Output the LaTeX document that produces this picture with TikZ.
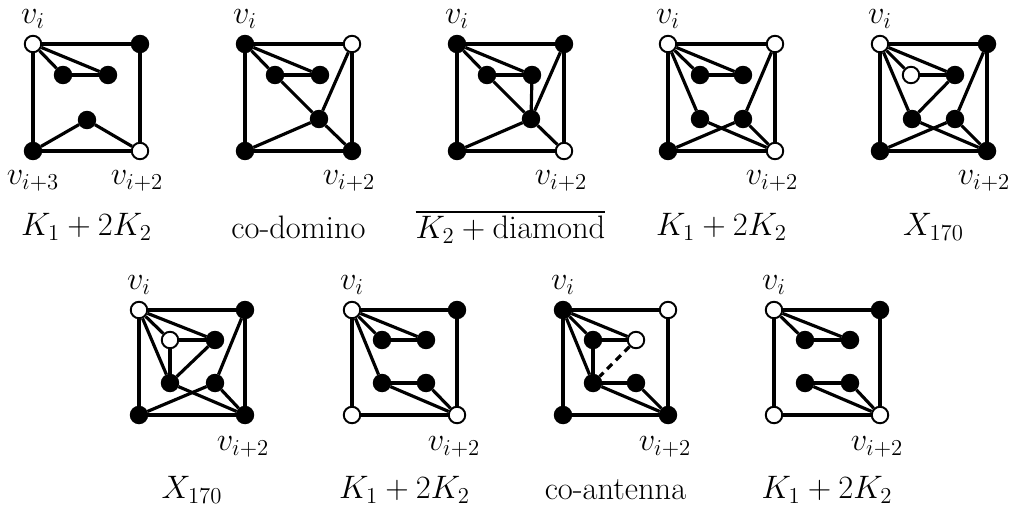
\RequirePackage{fix-cm}
\documentclass[tikz,border=0pt]{standalone}
\usepackage{amsmath}
\usepackage{tikz}
\usetikzlibrary{positioning}

\begin{document}
\begin{tikzpicture}[
  x=0.02cm, y=-0.02cm,
  font=\fontsize{18.5}{22}\selectfont,
  vtx/.style={circle, fill=black, draw=black, line width=1.1pt, minimum size=0.33cm, inner sep=0pt},
  wvtx/.style={vtx, fill=white},
  edge/.style={line width=1.8pt},
  nonedge/.style={edge, dash pattern=on 4pt off 3pt},
  lbl/.style={inner sep=1pt}
]
\useasboundingbox (0,0) rectangle (1013,512);

% graph 1: K_1 + 2K_2
\begin{scope}[shift={(33,44)}, name prefix=g1-]
  \node[wvtx] (tl) at (0,0) {};
  \node[vtx] (tr) at (107,0) {};
  \node[vtx] (bl) at (0,107) {};
  \node[wvtx] (br) at (107,107) {};
  \node[vtx] (a) at (30,31) {};
  \node[vtx] (b) at (75,31) {};
  \node[vtx] (e) at (54,76) {};
  \foreach \u/\v in {tl/tr,tr/br,br/bl,bl/tl,tl/a,tl/b,a/b,e/bl,e/br}
    \draw[edge] (\u) -- (\v);
  \node[lbl] (vi) at (0,-25) {$v_i$};
  \node[lbl] (vi3) at (0,137) {$v_{i+3}$};
  \node[lbl] (vi2) at (104,137) {$v_{i+2}$};
  \node (title) at (53.5,183) {$K_1 + 2K_2$};
\end{scope}

% graph 2: co-domino
\begin{scope}[shift={(245,44)}, name prefix=g2-]
  \node[vtx] (tl) at (0,0) {};
  \node[wvtx] (tr) at (107,0) {};
  \node[vtx] (bl) at (0,107) {};
  \node[vtx] (br) at (107,107) {};
  \node[vtx] (a) at (30,31) {};
  \node[vtx] (b) at (75,31) {};
  \node[vtx] (c) at (74,75) {};
  \foreach \u/\v in {tl/tr,tr/br,br/bl,bl/tl,tl/a,tl/b,a/b,a/c,c/tr,c/bl,c/br}
    \draw[edge] (\u) -- (\v);
  \node[lbl] (vi) at (0,-25) {$v_i$};
  \node[lbl] (vi2) at (104,137) {$v_{i+2}$};
  \node (title) at (53.5,183) {co-domino};
\end{scope}

% graph 3: complement of K_2 + diamond
\begin{scope}[shift={(457,44)}, name prefix=g3-]
  \node[vtx] (tl) at (0,0) {};
  \node[vtx] (tr) at (107,0) {};
  \node[vtx] (bl) at (0,107) {};
  \node[wvtx] (br) at (107,107) {};
  \node[vtx] (a) at (30,31) {};
  \node[vtx] (b) at (75,31) {};
  \node[vtx] (c) at (74,75) {};
  \foreach \u/\v in {tl/tr,tr/br,br/bl,bl/tl,tl/a,tl/b,a/b,a/c,b/c,c/tr,c/bl,c/br}
    \draw[edge] (\u) -- (\v);
  \node[lbl] (vi) at (0,-25) {$v_i$};
  \node[lbl] (vi2) at (104,137) {$v_{i+2}$};
  \node (title) at (53.5,183) {$\overline{K_2 + \mathrm{diamond}}$};
\end{scope}

% graph 4: K_1 + 2K_2
\begin{scope}[shift={(668,44)}, name prefix=g4-]
  \node[wvtx] (tl) at (0,0) {};
  \node[wvtx] (tr) at (107,0) {};
  \node[vtx] (bl) at (0,107) {};
  \node[wvtx] (br) at (107,107) {};
  \node[vtx] (a) at (32,31) {};
  \node[vtx] (b) at (75,31) {};
  \node[vtx] (c) at (32,75) {};
  \node[vtx] (d) at (75,75) {};
  \foreach \u/\v in {tl/tr,tr/br,br/bl,bl/tl,tl/a,tl/b,a/b,tl/c,d/tr,c/br,d/bl,d/br}
    \draw[edge] (\u) -- (\v);
  \node[lbl] (vi) at (0,-25) {$v_i$};
  \node[lbl] (vi2) at (104,137) {$v_{i+2}$};
  \node (title) at (53.5,183) {$K_1 + 2K_2$};
\end{scope}

% graph 5: X_170
\begin{scope}[shift={(880,44)}, name prefix=g5-]
  \node[wvtx] (tl) at (0,0) {};
  \node[vtx] (tr) at (107,0) {};
  \node[vtx] (bl) at (0,107) {};
  \node[vtx] (br) at (107,107) {};
  \node[wvtx] (a) at (31,31) {};
  \node[vtx] (b) at (75,31) {};
  \node[vtx] (c) at (32,75) {};
  \node[vtx] (d) at (75,75) {};
  \foreach \u/\v in {tl/tr,tr/br,br/bl,bl/tl,tl/a,tl/b,a/b,tl/c,b/c,d/tr,c/br,d/bl,d/br}
    \draw[edge] (\u) -- (\v);
  \node[lbl] (vi) at (0,-25) {$v_i$};
  \node[lbl] (vi2) at (104,137) {$v_{i+2}$};
  \node (title) at (53.5,183) {$X_{170}$};
\end{scope}

% graph 6: X_170
\begin{scope}[shift={(139,310)}, name prefix=g6-]
  \node[wvtx] (tl) at (0,0) {};
  \node[vtx] (tr) at (106,0) {};
  \node[vtx] (bl) at (0,105) {};
  \node[vtx] (br) at (106,105) {};
  \node[wvtx] (a) at (31,30) {};
  \node[vtx] (b) at (76,30) {};
  \node[vtx] (c) at (31,73) {};
  \node[vtx] (d) at (76,73) {};
  \foreach \u/\v in {tl/tr,tr/br,br/bl,bl/tl,tl/a,tl/b,a/b,a/c,tl/c,b/c,d/tr,c/br,d/bl,d/br}
    \draw[edge] (\u) -- (\v);
  \node[lbl] (vi) at (0,-25) {$v_i$};
  \node[lbl] (vi2) at (104,137) {$v_{i+2}$};
  \node (title) at (53,180) {$X_{170}$};
\end{scope}

% graph 7: K_1 + 2K_2
\begin{scope}[shift={(352,310)}, name prefix=g7-]
  \node[wvtx] (tl) at (0,0) {};
  \node[vtx] (tr) at (105,0) {};
  \node[wvtx] (bl) at (0,105) {};
  \node[wvtx] (br) at (105,105) {};
  \node[vtx] (a) at (30,30) {};
  \node[vtx] (b) at (74,30) {};
  \node[vtx] (c) at (30,73) {};
  \node[vtx] (d) at (74,73) {};
  \foreach \u/\v in {tl/tr,tr/br,br/bl,bl/tl,tl/a,tl/b,a/b,tl/c,c/d,c/br,d/br}
    \draw[edge] (\u) -- (\v);
  \node[lbl] (vi) at (0,-25) {$v_i$};
  \node[lbl] (vi2) at (102,137) {$v_{i+2}$};
  \node (title) at (52.5,180) {$K_1 + 2K_2$};
\end{scope}

% graph 8: co-antenna
\begin{scope}[shift={(563,310)}, name prefix=g8-]
  \node[vtx] (tl) at (0,0) {};
  \node[wvtx] (tr) at (105,0) {};
  \node[vtx] (bl) at (0,105) {};
  \node[vtx] (br) at (105,105) {};
  \node[vtx] (a) at (30,30) {};
  \node[wvtx] (b) at (73,30) {};
  \node[vtx] (c) at (30,73) {};
  \node[vtx] (d) at (73,73) {};
  \foreach \u/\v in {tl/tr,tr/br,br/bl,bl/tl,tl/a,tl/b,a/b,tl/c,a/c,c/d,c/br,d/br}
    \draw[edge] (\u) -- (\v);
  \draw[nonedge] (b) -- (c);
  \node[lbl] (vi) at (0,-25) {$v_i$};
  \node[lbl] (vi2) at (102,137) {$v_{i+2}$};
  \node (title) at (52.5,180) {co-antenna};
\end{scope}

% graph 9: K_1 + 2K_2
\begin{scope}[shift={(774,310)}, name prefix=g9-]
  \node[wvtx] (tl) at (0,0) {};
  \node[vtx] (tr) at (106,0) {};
  \node[wvtx] (bl) at (0,105) {};
  \node[wvtx] (br) at (106,105) {};
  \node[vtx] (a) at (31,30) {};
  \node[vtx] (b) at (76,30) {};
  \node[vtx] (c) at (31,73) {};
  \node[vtx] (d) at (76,73) {};
  \foreach \u/\v in {tl/tr,tr/br,br/bl,bl/tl,tl/a,tl/b,a/b,c/d,c/br,d/br}
    \draw[edge] (\u) -- (\v);
  \node[lbl] (vi) at (0,-25) {$v_i$};
  \node[lbl] (vi2) at (103,137) {$v_{i+2}$};
  \node (title) at (53,180) {$K_1 + 2K_2$};
\end{scope}

\end{tikzpicture}
\end{document}
